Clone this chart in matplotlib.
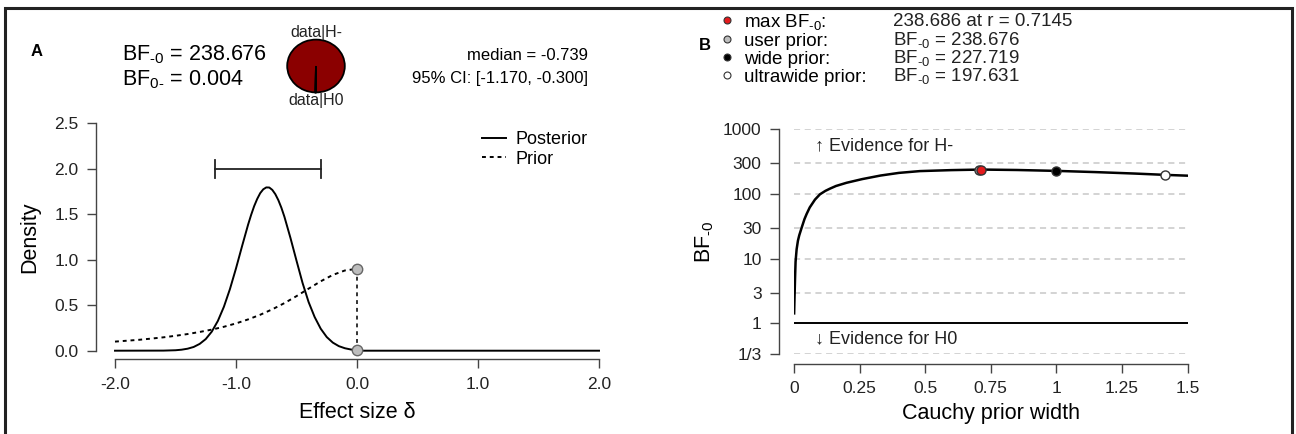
import matplotlib
matplotlib.use("Agg")
import matplotlib.pyplot as plt
from matplotlib.lines import Line2D
from matplotlib.patches import Rectangle

plt.rcParams['font.family'] = ['Liberation Sans', 'DejaVu Sans']
plt.rcParams['mathtext.fontset'] = 'custom'
plt.rcParams['mathtext.rm'] = 'Liberation Sans'
plt.rcParams['mathtext.it'] = 'Liberation Sans'
plt.rcParams['mathtext.default'] = 'regular'

# ---- panel A data ----
post_x = [-2.0, -1.6, -1.5, -1.45, -1.4, -1.35, -1.3, -1.25, -1.2, -1.15, -1.1, -1.05,
          -1.0, -0.95, -0.9, -0.875, -0.85, -0.825, -0.8, -0.775, -0.75, -0.725, -0.7,
          -0.675, -0.65, -0.625, -0.6, -0.55, -0.5,
          -0.45, -0.4, -0.35, -0.3, -0.25, -0.2, -0.15, -0.1, -0.05, 0.0, 0.0, 2.0]
post_y = [0.0, 0.001, 0.005, 0.011, 0.022, 0.041, 0.075, 0.128, 0.21, 0.327, 0.483, 0.678,
          0.905, 1.149, 1.386, 1.493, 1.589, 1.668, 1.732, 1.774, 1.795, 1.794, 1.768,
          1.721, 1.655, 1.572, 1.473, 1.24, 0.99,
          0.745, 0.535, 0.37, 0.242, 0.15, 0.089, 0.05, 0.027, 0.013, 0.007, 0.0, 0.0]
prior_x = [-2.0, -1.9, -1.8, -1.7, -1.6, -1.5, -1.4, -1.3, -1.2, -1.1, -1.0,
           -0.9, -0.8, -0.7, -0.6, -0.5, -0.4, -0.3, -0.2, -0.1, 0.0]
prior_y = [0.100, 0.110, 0.120, 0.133, 0.147, 0.164, 0.183, 0.206, 0.232, 0.263, 0.300,
           0.344, 0.395, 0.455, 0.523, 0.600, 0.682, 0.763, 0.833, 0.882, 0.900]
ci_low, ci_high, ci_level = -1.170, -0.300, 2.0
dens_at_zero = [0.900, 0.007]
bf_m0 = 238.676
bf_0m = 0.004
median = -0.739

# ---- panel B data ----
r_width = [0.0005, 0.002, 0.004, 0.006, 0.01, 0.015, 0.02, 0.029, 0.04, 0.048, 0.06,
           0.08, 0.099, 0.12, 0.137, 0.16, 0.2, 0.26, 0.33, 0.4, 0.48, 0.6, 0.7145, 0.85, 1.0,
           1.15, 1.3, 1.414, 1.5]
bf_curve = [1.43, 2.5, 5.0, 9.0, 14.0, 19.0, 23.0, 30.0, 41.0, 49.0, 62.0,
            82.0, 99.0, 112.0, 121.0, 133.0, 149.0, 170.0, 193.0, 212.0, 226.0, 234.0, 238.686,
            235.0, 227.719, 218.0, 207.0, 197.631, 192.0]
prior_names = ['max BF$_{\\text{-0}}$:', 'user prior:', 'wide prior:', 'ultrawide prior:']
prior_r = [0.7145, 0.7071, 1.0, 1.4142]
prior_bf = [238.686, 238.676, 227.719, 197.631]
prior_fill = ['#e41a1c', '#bdbdbd', 'black', 'white']
value_text = ['238.686 at r = 0.7145', 'BF$_{\\text{-0}}$ = 238.676',
              'BF$_{\\text{-0}}$ = 227.719', 'BF$_{\\text{-0}}$ = 197.631']
bf_ticks = [1/3, 1, 3, 10, 30, 100, 300, 1000]
bf_ticklabels = ['1/3', '1', '3', '10', '30', '100', '300', '1000']
r_ticks = [0, 0.25, 0.5, 0.75, 1, 1.25, 1.5]
r_ticklabels = ['0', '0.25', '0.5', '0.75', '1', '1.25', '1.5']

W, H = 1296, 434
fig = plt.figure(figsize=(W / 100, H / 100), dpi=100)


def px_box(x0, y_top, x1, y_bot):
    return [x0 / W, 1 - y_bot / H, (x1 - x0) / W, (y_bot - y_top) / H]


def r_style(ax, out_x, out_y):
    for s in ['top', 'right']:
        ax.spines[s].set_visible(False)
    ax.spines['left'].set_position(('outward', out_y))
    ax.spines['bottom'].set_position(('outward', out_x))
    for s in ['left', 'bottom']:
        ax.spines[s].set_color('#444444')
        ax.spines[s].set_linewidth(1.0)
    ax.tick_params(length=6.5, width=1.0, color='#444444', labelsize=12.5,
                   labelcolor='#222222', pad=6)


# ---------------- panel A ----------------
axA = fig.add_axes(px_box(115, 123.3, 599, 350.7))
r_style(axA, 6.2, 13.7)
axA.set_xlim(-2, 2)
axA.set_ylim(0, 2.5)
axA.spines['left'].set_bounds(0, 2.5)
axA.spines['bottom'].set_bounds(-2, 2)
axA.set_xticks([-2, -1, 0, 1, 2])
axA.set_xticklabels(['-2.0', '-1.0', '0.0', '1.0', '2.0'])
axA.set_yticks([0, 0.5, 1.0, 1.5, 2.0, 2.5])
axA.set_yticklabels(['0.0', '0.5', '1.0', '1.5', '2.0', '2.5'])

axA.plot(post_x, post_y, color='black', lw=1.4, label='Posterior', clip_on=False)
axA.plot(prior_x, prior_y, color='black', lw=1.4, ls=(0, (2, 2)), label='Prior', clip_on=False)
axA.plot([0, 0], dens_at_zero, color='#333333', lw=1.4, ls=(0, (2, 2)), clip_on=False)
axA.plot([0, 0], dens_at_zero, ls='none', marker='o', ms=7.5, mfc='#bdbdbd',
         mec='#666666', mew=1.0, clip_on=False, zorder=5)
# credible interval bar
axA.plot([ci_low, ci_high], [ci_level, ci_level], color='#222222', lw=1.3)
for xc in [ci_low, ci_high]:
    axA.plot([xc, xc], [ci_level - 0.1, ci_level + 0.1], color='#222222', lw=1.3)

axA.set_xlabel('Effect size δ', fontsize=15.5)
axA.set_ylabel('Density', fontsize=15.5)
axA.xaxis.set_label_coords(0.5, -0.225)
axA.yaxis.set_label_coords(-0.155, 0.5)
axA.legend(loc='upper left', bbox_to_anchor=(482 / W, 1 - 131 / H), bbox_transform=fig.transFigure,
           frameon=False, fontsize=13, handlelength=1.35, handletextpad=0.5,
           labelspacing=0.15, borderpad=0, borderaxespad=0)

fig.text(37 / W, 1 - 52 / H, 'A', fontsize=12, fontweight='bold', ha='center', va='center')
fig.text(122 / W, 1 - 55 / H, 'BF$_{\\text{-0}}$ = %.3f' % bf_m0, fontsize=15.5, va='center')
fig.text(122 / W, 1 - 80 / H, 'BF$_{\\text{0-}}$ = %.3f' % bf_0m, fontsize=15.5, va='center')
fig.text(588 / W, 1 - 55 / H, 'median = %.3f' % median, fontsize=12, ha='right', va='center')
fig.text(588 / W, 1 - 79 / H, '95%% CI: [%.3f, %.3f]' % (ci_low, ci_high), fontsize=12,
         ha='right', va='center')

# pie of evidence
axP = fig.add_axes(px_box(280, 33, 352, 99))
axP.pie([bf_m0, 1.0], colors=['#8b0000', 'white'], startangle=-90, counterclock=True,
        wedgeprops=dict(edgecolor='black', linewidth=1.3))
axP.set_aspect('auto')
fig.text(316 / W, 1 - 32 / H, 'data|H-', fontsize=11.5, ha='center', va='center', color='#222222')
fig.text(316 / W, 1 - 101 / H, 'data|H0', fontsize=11.5, ha='center', va='center', color='#222222')

# ---------------- panel B ----------------
axB = fig.add_axes(px_box(794, 129.3, 1187.5, 354.3))
r_style(axB, 7.0, 10.8)
axB.set_yscale('log')
axB.set_xlim(0, 1.5)
axB.set_ylim(1 / 3, 1000)
axB.spines['left'].set_bounds(1 / 3, 1000)
axB.spines['bottom'].set_bounds(0, 1.5)
axB.set_yticks(bf_ticks)
axB.set_yticklabels(bf_ticklabels)
axB.yaxis.set_minor_locator(matplotlib.ticker.NullLocator())
axB.set_xticks(r_ticks)
axB.set_xticklabels(r_ticklabels)

for t in bf_ticks:
    if t == 1:
        axB.axhline(t, color='black', lw=1.4, zorder=1)
    else:
        axB.axhline(t, color='#c8c8c8', lw=1.1, ls=(0, (4, 3)), zorder=1)

axB.plot(r_width, bf_curve, color='black', lw=1.8, zorder=3)
# user prior first, then max on top
order = [1, 0, 2, 3]
for i in order:
    axB.plot(prior_r[i], prior_bf[i], ls='none', marker='o', ms=6.5, mfc=prior_fill[i],
             mec='#333333', mew=1.0, zorder=4)

axB.text((815 - 794) / 393.5, (354.3 - 146) / 225, '↑ Evidence for H-', transform=axB.transAxes,
         fontsize=13, va='center', ha='left', color='#222222')
axB.text((815 - 794) / 393.5, (354.3 - 339) / 225, '↓ Evidence for H0', transform=axB.transAxes,
         fontsize=13, va='center', ha='left', color='#222222')
axB.set_xlabel('Cauchy prior width', fontsize=15.5)
axB.xaxis.set_label_coords(0.5, -0.215)
axB.set_ylabel('BF$_{\\text{-0}}$', fontsize=15.5)
axB.yaxis.set_label_coords(-0.198, 0.5)

handles = [Line2D([], [], ls='none', marker='o', ms=5, mfc=prior_fill[i], mec='#333333', mew=0.8)
           for i in range(4)]
fig.legend(handles, prior_names, loc='upper left', bbox_to_anchor=(718 / W, 1 - 12 / H),
           frameon=False, fontsize=13.5, handlelength=1.0, handletextpad=0.4,
           labelspacing=0.04, borderpad=0, borderaxespad=0)
for i, txt in enumerate(value_text):
    fig.text(893 / W, 1 - (22 + 18 * i) / H, txt, fontsize=13.5, va='center', color='#222222')

fig.text(705 / W, 1 - 45 / H, 'B', fontsize=12, fontweight='bold', ha='center', va='center')

# outer frame
fig.add_artist(Rectangle((5 / W, -0.05), (1292 - 5) / W, (H - 8) / H + 0.05,
                         transform=fig.transFigure, fill=False, lw=2.2, edgecolor='#222222'))

fig.savefig('out.png', dpi=100)
